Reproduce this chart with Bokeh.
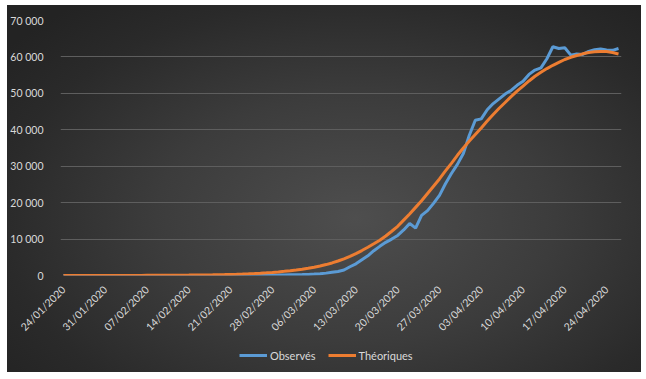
import numpy as np
import pandas as pd
from bokeh.plotting import figure
from bokeh.layouts import column
from bokeh.models import (ColumnDataSource, FixedTicker, Legend, LegendItem,
                          Range1d, DatetimeTickFormatter)
from bokeh.embed import file_html
from bokeh.resources import INLINE

start_date = "2020-01-24"

observes = [0, 0, 0, 0, 0, 0, 0, 0, 0, 0,
            0, 0, 0, 0, 0, 0, 0, 0, 0, 0,
            0, 0, 0, 0, 0, 0, 0, 0, 0, 0,
            0, 20, 40, 60, 80, 100, 120, 150, 180, 210,
            250, 300, 380, 480, 650, 900, 1100, 1500, 2400, 3200,
            4300, 5400, 6800, 8000, 9100, 10000, 11000, 12500, 14300, 13000,
            16500, 17800, 19800, 22000, 25200, 28000, 30500, 33500, 38500, 42600,
            43000, 45500, 47200, 48500, 49800, 50800, 52200, 53300, 55200, 56400,
            57000, 59500, 62800, 62300, 62500, 60500, 60800, 60700, 61500, 62000,
            62200, 61900, 61800, 62300]

theoriques = [4, 5, 6, 7, 8, 9, 11, 12, 14, 17,
              20, 23, 27, 31, 36, 42, 49, 57, 66, 77,
              90, 104, 121, 141, 164, 190, 221, 256, 298, 346,
              400, 465, 540, 627, 730, 850, 985, 1140, 1310, 1510,
              1730, 1980, 2270, 2600, 3000, 3450, 3980, 4580, 5250, 6000,
              6850, 7750, 8700, 9700, 10850, 12150, 13500, 15200, 16900, 18700,
              20500, 22500, 24500, 26500, 28700, 30800, 33000, 35000, 36900, 38700,
              40500, 42400, 44200, 45900, 47500, 49100, 50600, 52000, 53400, 54700,
              55800, 56800, 57700, 58500, 59300, 59900, 60400, 60850, 61200, 61400,
              61500, 61500, 61200, 60800]

tick_dates = ["24/01/2020", "31/01/2020", "07/02/2020", "14/02/2020", "21/02/2020",
              "28/02/2020", "06/03/2020", "13/03/2020", "20/03/2020", "27/03/2020",
              "03/04/2020", "10/04/2020", "17/04/2020", "24/04/2020"]

y_ticks = [0, 10000, 20000, 30000, 40000, 50000, 60000, 70000]

series_names = ["Observés", "Théoriques"]
series_colors = ["#5b9bd5", "#ed7d31"]

dates = pd.date_range(start_date, periods=len(observes))
source = ColumnDataSource(dict(date=dates, obs=observes, theo=theoriques))

def to_ms(ts):
    return (pd.Timestamp(ts) - pd.Timestamp("1970-01-01")) / pd.Timedelta(milliseconds=1)

half_day = 12 * 3600 * 1000
x_start = to_ms(dates[0]) - half_day
x_end = to_ms(dates[-1]) + half_day

p = figure(width=641, height=340, x_axis_type="datetime",
           x_range=Range1d(x_start, x_end), y_range=Range1d(0, 70000),
           output_backend="svg", toolbar_location=None,
           min_border_left=60, min_border_right=20,
           min_border_top=20, min_border_bottom=65)
p.border_fill_alpha = 0
p.background_fill_alpha = 0
p.outline_line_color = None

r_obs = p.line("date", "obs", source=source, line_color=series_colors[0], line_width=3)
r_theo = p.line("date", "theo", source=source, line_color=series_colors[1], line_width=3)

tick_ms = [to_ms(pd.to_datetime(t, format="%d/%m/%Y")) for t in tick_dates]
p.xaxis.ticker = FixedTicker(ticks=tick_ms)
fmt = "%d/%m/%Y"
p.xaxis.formatter = DatetimeTickFormatter(days=fmt, months=fmt, years=fmt, hours=fmt,
                                          hourmin=fmt, minutes=fmt, minsec=fmt,
                                          seconds=fmt, milliseconds=fmt,
                                          microseconds=fmt)
p.xaxis.major_label_orientation = np.pi / 4
p.yaxis.ticker = FixedTicker(ticks=y_ticks)
p.yaxis.major_label_overrides = {
    t: (f"{t // 1000} {t % 1000:03d}" if t >= 1000 else str(t)) for t in y_ticks
}

for ax in (p.xaxis[0], p.yaxis[0]):
    ax.axis_line_color = None
    ax.major_tick_line_color = None
    ax.minor_tick_line_color = None
    ax.major_label_text_color = "#d9d9d9"
    ax.major_label_text_font = "Lato"
p.yaxis.major_label_text_font_size = "10.5px"
p.xaxis.major_label_text_font_size = "10.5px"
p.yaxis.major_label_standoff = 11
p.xaxis.major_label_standoff = 6

p.xgrid.grid_line_color = None
p.ygrid.grid_line_color = "#5e5e5e"
p.ygrid.grid_line_width = 1

# legend strip below the chart
pl = figure(width=641, height=32, x_range=Range1d(0, 1), y_range=Range1d(0, 1),
            output_backend="svg", toolbar_location=None,
            x_axis_location=None, y_axis_location=None,
            min_border_left=0, min_border_right=0, min_border_top=0, min_border_bottom=0)
pl.border_fill_alpha = 0
pl.background_fill_alpha = 0
pl.outline_line_color = None
pl.xgrid.grid_line_color = None
pl.ygrid.grid_line_color = None
l_obs = pl.line(x=[5, 6], y=[5, 6], line_color=series_colors[0], line_width=3)
l_theo = pl.line(x=[5, 6], y=[5, 6], line_color=series_colors[1], line_width=3)

legend = Legend(items=[LegendItem(label=series_names[0], renderers=[l_obs]),
                       LegendItem(label=series_names[1], renderers=[l_theo])],
                orientation="horizontal", location=(179, 10),
                background_fill_alpha=0, border_line_color=None,
                label_text_color="#d9d9d9", label_text_font="Lato",
                label_text_font_size="11px", glyph_width=28, glyph_height=14,
                label_height=14, label_standoff=3, spacing=12, padding=0, margin=0)
pl.add_layout(legend, "center")

layout = column(p, pl, spacing=0)
layout.styles = {"background": "radial-gradient(ellipse 70% 75% at 55% 58%, #4e4e4e 0%, #3c3c3c 45%, #2a2a2a 80%, #232323 100%) 7px 5px / calc(100% - 7px) calc(100% - 5px) no-repeat, #ffffff"}

open("out.html", "w").write(file_html(layout, INLINE))
